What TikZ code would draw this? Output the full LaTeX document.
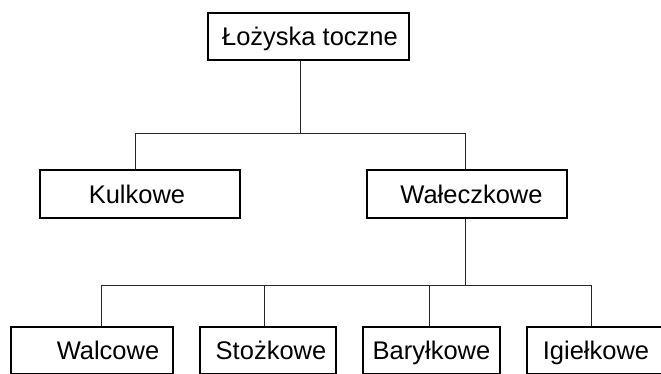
\documentclass[tikz,border=0pt]{standalone}
\usepackage{fontspec}
\setmainfont{Liberation Sans}
\begin{document}
\begin{tikzpicture}[x=1pt,y=-1pt,
  box/.style={draw=black, line width=1.8pt, rectangle, inner sep=0pt,
    font=\fontsize{25.5}{30}\selectfont, text height=18.5pt, text depth=0pt},
  conn/.style={draw=black!85, line width=1pt}]
\clip (0,0) rectangle (661,373);
% top
\node[box, minimum width=201pt, minimum height=47pt] (top) at (308.5,36.5) {\hspace*{3pt}Łożyska toczne};
% level 2
\node[box, minimum width=200pt, minimum height=48pt] (kul) at (140,194) {Kulkowe\hspace*{6pt}};
\node[box, minimum width=200pt, minimum height=48pt] (wal) at (467,194) {\hspace*{9pt}Wałeczkowe};
% level 3
\node[box, minimum width=162pt, minimum height=47pt] (walc) at (92,350.5) {\hspace*{32pt}Walcowe};
\node[box, minimum width=136pt, minimum height=47pt] (sto) at (268,350.5) {\hspace*{6pt}Stożkowe};
\node[box, minimum width=137pt, minimum height=47pt] (bar) at (431.5,350.5) {Baryłkowe};
\node[box, minimum width=138pt, minimum height=47pt] (igi) at (596,350.5) {Igiełkowe};
% bus 1
\coordinate (j1) at (300,133);
\coordinate (b1l) at (135,133);
\coordinate (b1r) at (465,133);
\draw[conn] (top.south -| j1) -- (j1);
\draw[conn] (b1l) -- (b1r);
\draw[conn] (b1l) -- (kul.north -| b1l);
\draw[conn] (b1r) -- (wal.north -| b1r);
% bus 2
\coordinate (j2) at (465,285);
\coordinate (c1) at (101,285);
\coordinate (c2) at (264,285);
\coordinate (c3) at (429,285);
\coordinate (c4) at (591,285);
\draw[conn] (wal.south -| j2) -- (j2);
\draw[conn] (c1) -- (c4);
\draw[conn] (c1) -- (walc.north -| c1);
\draw[conn] (c2) -- (sto.north -| c2);
\draw[conn] (c3) -- (bar.north -| c3);
\draw[conn] (c4) -- (igi.north -| c4);
\end{tikzpicture}
\end{document}
